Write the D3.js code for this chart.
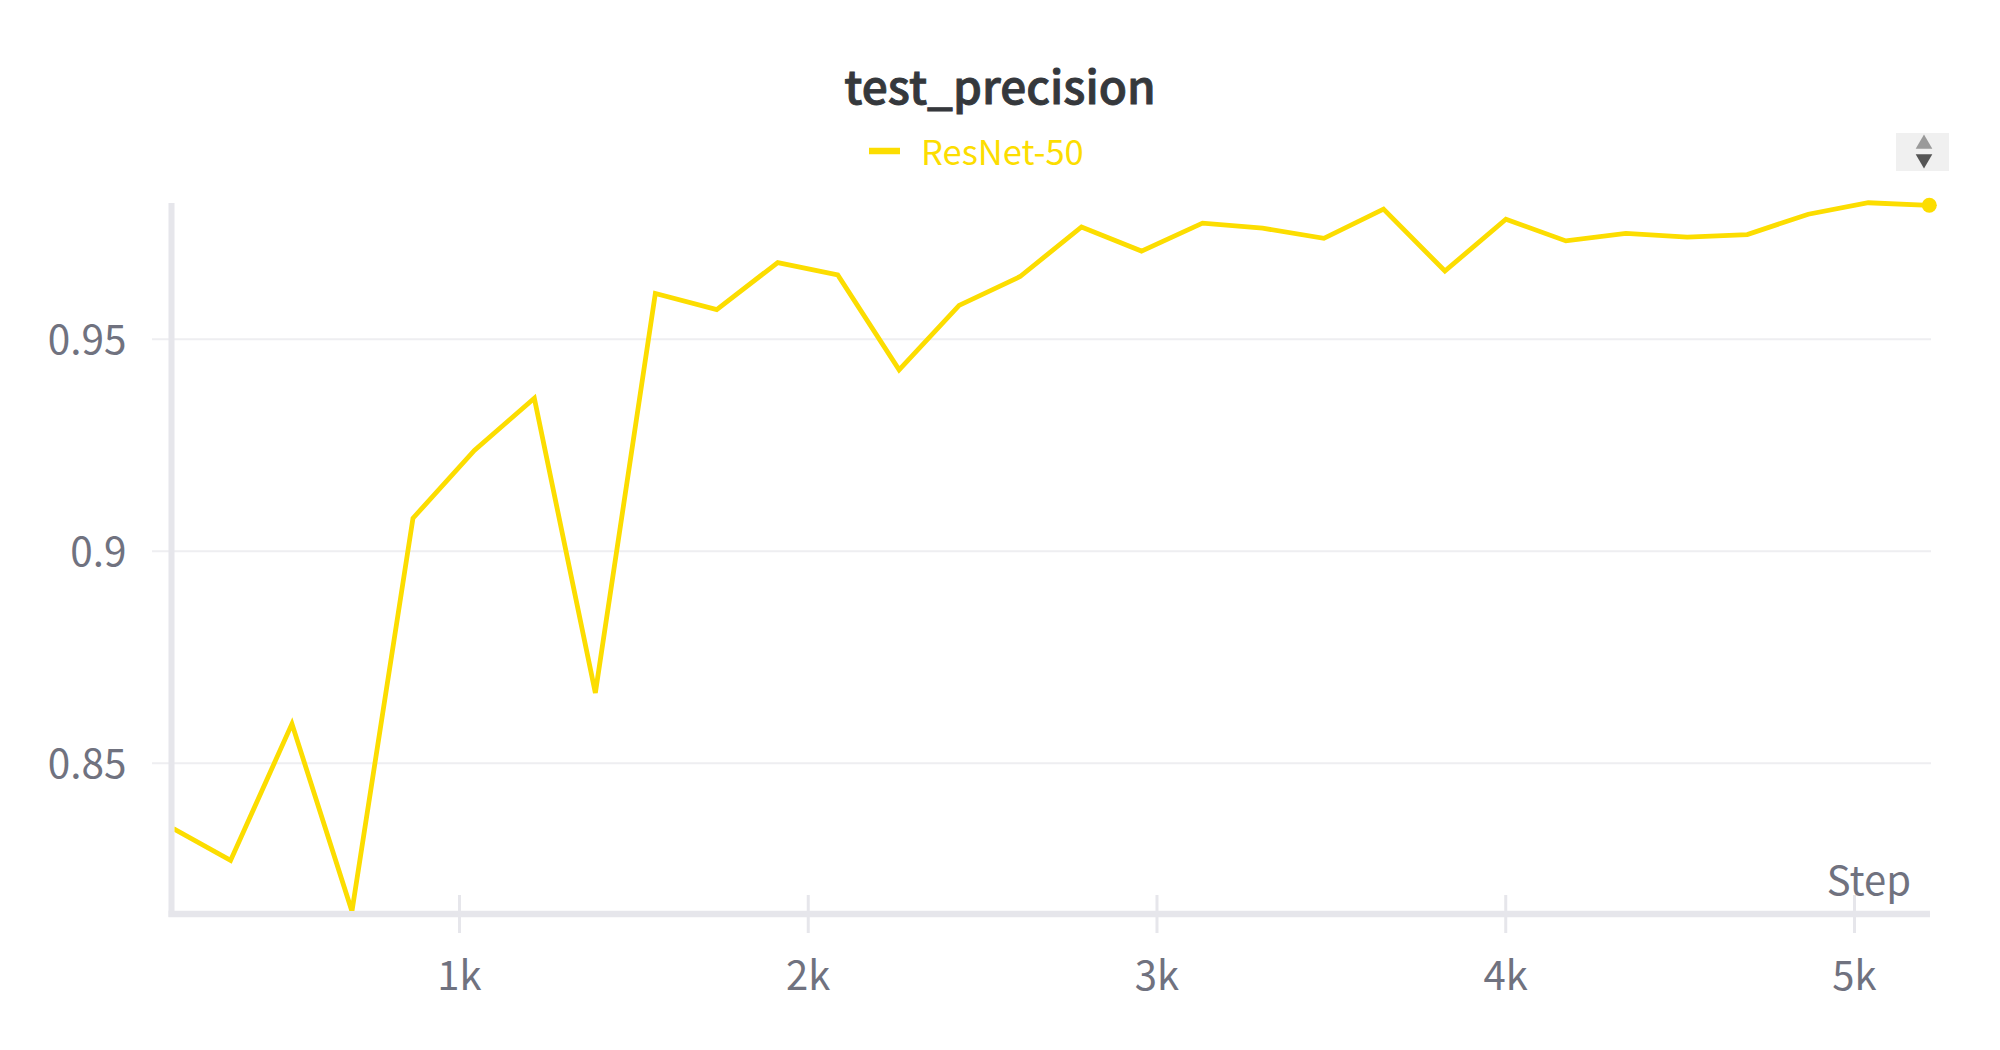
<!DOCTYPE html>
<html>
<head>
<meta charset="utf-8">
<script src="https://cdn.jsdelivr.net/npm/d3@7/dist/d3.min.js"></script>
<style>
html,body{margin:0;padding:0;background:#fff;overflow:hidden}
svg{display:block}
text{font-family:"Noto Sans CJK SC","Noto Sans",sans-serif}
</style>
</head>
<body>
<svg id="chart" width="2000" height="1050"></svg>
<script>
const chartTitle = "test_precision";
const seriesName = "ResNet-50";
const xAxisLabel = "Step";
const steps = [181,345,521,693,868,1044,1216,1391,1563,1739,1914,2086,2262,2434,2609,2785,2957,3132,3304,3480,3651,3827,4002,4174,4346,4522,4694,4869,5041,5216];
const precision = [0.8346,0.8271,0.8593,0.8151,0.9078,0.9238,0.9361,0.8666,0.9608,0.9570,0.9681,0.9652,0.9428,0.9580,0.9648,0.9765,0.9708,0.9774,0.9762,0.9738,0.9807,0.9661,0.9783,0.9732,0.9750,0.9741,0.9747,0.9795,0.9822,0.9816];
const xTicks = [1000,2000,3000,4000,5000];
const xTickLabels = ["1k","2k","3k","4k","5k"];
const yTicks = [0.85,0.9,0.95];
const yTickLabels = ["0.85","0.9","0.95"];
const xDomain = [175.6,5218];
const yDomain = [0.81446,0.98285];

const lineColor = "#fcdd00", axisColor = "#e6e6eb", gridColor = "#eeeef1", tickText = "#70727f";
const L = 171.5, R = 1930, T = 200, B = 914;
const svg = d3.select("#chart");
const x = d3.scaleLinear().domain(xDomain).range([L, R]);
const y = d3.scaleLinear().domain(yDomain).range([B, T]);

// grid
svg.append("g").selectAll("line").data(yTicks).join("line")
  .attr("x1", 152).attr("x2", R + 1)
  .attr("y1", d => y(d)).attr("y2", d => y(d))
  .attr("stroke", gridColor).attr("stroke-width", 2);

// y axis
const yAxis = d3.axisLeft(y).tickValues(yTicks)
  .tickFormat((d, i) => yTickLabels[i]).tickSize(0).tickPadding(45);
const gy = svg.append("g").attr("transform", `translate(${L},0)`).call(yAxis);
gy.select(".domain").remove();
gy.selectAll("text").attr("fill", tickText).style("font-size", "40.5px").attr("dy", "0.36em");
svg.append("line").attr("x1", L).attr("x2", L).attr("y1", 203).attr("y2", B + 3)
  .attr("stroke", axisColor).attr("stroke-width", 6);

// x axis
const xAxis = d3.axisBottom(x).tickValues(xTicks)
  .tickFormat((d, i) => xTickLabels[i]).tickSize(0).tickPadding(48);
const gx = svg.append("g").attr("transform", `translate(0,${B})`).call(xAxis);
gx.select(".domain").remove();
gx.selectAll(".tick line").remove();
gx.selectAll(".tick").append("line")
  .attr("y1", -19).attr("y2", 19).attr("stroke", axisColor).attr("stroke-width", 3);
gx.selectAll("text").attr("fill", tickText).style("font-size", "40px").attr("dy", "0.71em");
svg.append("line").attr("x1", L - 3).attr("x2", R).attr("y1", B).attr("y2", B)
  .attr("stroke", axisColor).attr("stroke-width", 6.5);

// series
svg.append("clipPath").attr("id", "plot").append("rect")
  .attr("x", L + 3).attr("y", T - 10).attr("width", R - L + 12).attr("height", B - T + 7);
const line = d3.line().x((d, i) => x(steps[i])).y(d => y(d));
svg.append("path").datum(precision).attr("d", line)
  .attr("fill", "none").attr("stroke", lineColor).attr("stroke-width", 4.8)
  .attr("stroke-linejoin", "miter").attr("clip-path", "url(#plot)");
svg.append("circle").attr("cx", x(steps[steps.length - 1])).attr("cy", y(precision[precision.length - 1]))
  .attr("r", 7.5).attr("fill", lineColor);

// axis label
svg.append("text").attr("x", 1911).attr("y", 895).attr("text-anchor", "end")
  .attr("fill", tickText).style("font-size", "40px").text(xAxisLabel);

// title
svg.append("text").attr("x", 1000).attr("y", 104).attr("text-anchor", "middle")
  .attr("fill", "#35383c").attr("stroke", "#35383c").attr("stroke-width", 0.9)
  .style("font-size", "46px").style("font-weight", 500).text(chartTitle);

// legend
svg.append("line").attr("x1", 869).attr("x2", 900).attr("y1", 151).attr("y2", 151)
  .attr("stroke", lineColor).attr("stroke-width", 6.5);
svg.append("text").attr("x", 921).attr("y", 165).attr("fill", lineColor)
  .style("font-size", "34.5px").text(seriesName);

// legend sort control
svg.append("rect").attr("x", 1896).attr("y", 133).attr("width", 53).attr("height", 38).attr("fill", "#f0f0f0");
svg.append("path").attr("d", d3.symbol(d3.symbolTriangle, 120)()).attr("transform", "translate(1924,144)").attr("fill", "#9a9a9a");
svg.append("path").attr("d", d3.symbol(d3.symbolTriangle, 120)()).attr("transform", "translate(1924,159) rotate(180)").attr("fill", "#555555");
</script>
</body>
</html>
